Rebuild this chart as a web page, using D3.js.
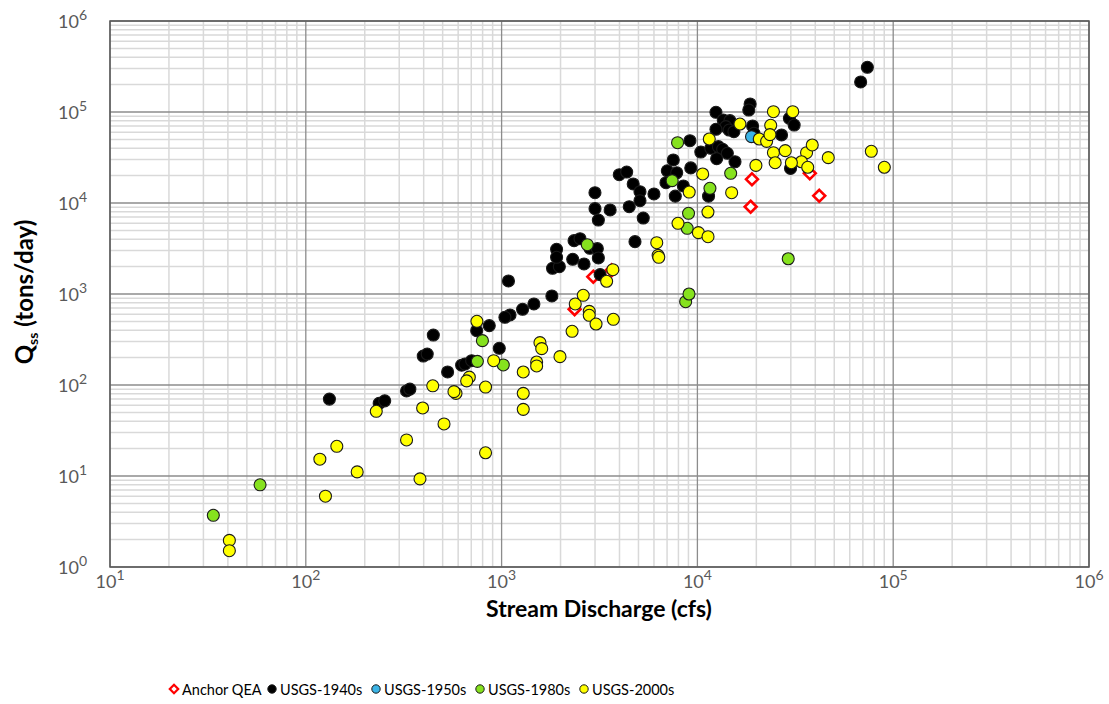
<!DOCTYPE html>
<html>
<head>
<meta charset="utf-8">
<script src="https://cdn.jsdelivr.net/npm/d3@7"></script>
<style>
  body { margin: 0; background: #fff; }
  svg { display: block; }
</style>
</head>
<body>
<svg width="1109" height="704"></svg>
<script>
// series: [discharge cfs, Qss tons/day]
const anchorQEA = [
  [2360, 680], [2940, 1550], [3650, 1820], [19000, 18200], [18700, 9100],
  [37500, 21200], [41900, 12000]
];
const usgs1940s = [
  [132, 70], [237, 63], [253, 67], [327, 86], [340, 90], [398, 208], [417, 219],
  [448, 354], [530, 139], [625, 165], [650, 170], [703, 185], [746, 395], [865, 449],
  [973, 253], [1084, 1390], [1104, 588], [1040, 555], [1280, 679], [1462, 777],
  [1806, 951], [1820, 1916], [1972, 1995], [1909, 3100], [1909, 2530], [2308, 2406],
  [2636, 2138], [2345, 3855], [2515, 4053], [2827, 3180], [3083, 3150], [3120, 2490],
  [3186, 1633], [2998, 12970], [3000, 8670], [3120, 6500], [3584, 8380], [3990, 20460],
  [4353, 21900], [4700, 16180], [5090, 13300], [5090, 10600], [4487, 9100], [5290, 6840],
  [4800, 3760], [6000, 12560], [7530, 29700], [7020, 22600], [7840, 21500], [6910, 16700],
  [7710, 11900], [8480, 15400], [9250, 24300], [11400, 11900], [12440, 99300],
  [18590, 122500], [18300, 105200], [29500, 85300], [31200, 71900], [13550, 81700],
  [14660, 80300], [13970, 69000], [14530, 63400], [15360, 60800], [12440, 64600],
  [19140, 70200], [19450, 58300], [26900, 55900], [9160, 48400], [10410, 36300],
  [11700, 39900], [12800, 41600], [13460, 38900], [12540, 30700], [14220, 35200],
  [15560, 28400], [29900, 24000], [73800, 309700], [68200, 213900]
];
const usgs1950s = [
  [18900, 53600]
];
const usgs1980s = [
  [33.7, 3.7], [58.4, 8.0], [798, 307], [752, 182], [1020, 166], [2740, 3480],
  [8710, 823], [9060, 1000], [7430, 17600], [11590, 14500], [9010, 7710], [8870, 5270],
  [29100, 2440], [14790, 21200], [7920, 46000]
];
const usgs2000s = [
  [40.7, 1.96], [40.7, 1.51], [118, 15.3], [144, 21.2], [126, 6.0], [183, 11.1],
  [229, 51.4], [395, 55.9], [445, 98], [327, 24.9], [383, 9.3], [508, 37.3], [585, 81],
  [571, 84.5], [684, 122], [663, 111], [748, 501], [911, 185], [828, 95], [828, 18.0],
  [1290, 139], [1290, 81], [1290, 54], [1510, 179], [1510, 162], [1570, 292], [1603, 251],
  [1987, 205], [2291, 389], [2378, 777], [2612, 968], [2803, 645], [2803, 583],
  [3036, 468], [3722, 527], [3439, 1380], [3700, 1850], [6200, 3660], [6300, 2660],
  [6350, 2530], [9080, 13200], [10640, 20840], [11320, 7960], [7960, 5980], [10120, 4720],
  [11330, 4260], [14960, 12980], [19900, 25900], [77300, 37000], [90100, 24700],
  [24450, 100800], [30680, 100800], [16490, 73800], [23680, 71400], [20700, 50500],
  [22570, 47600], [23480, 56400], [11500, 50500], [24450, 35700], [24950, 27700],
  [28100, 37600], [36100, 35700], [38600, 43400], [34000, 28400], [30200, 27700],
  [36600, 24700], [46600, 31500]
];

const seriesNames = ['Anchor QEA', 'USGS-1940s', 'USGS-1950s', 'USGS-1980s', 'USGS-2000s'];
const seriesColors = ['#ff0000', '#000000', '#3cb4e6', '#86e21e', '#ffff00'];
const seriesData = [anchorQEA, usgs1940s, usgs1950s, usgs1980s, usgs2000s];

const xExp = [1, 2, 3, 4, 5, 6];
const yExp = [0, 1, 2, 3, 4, 5, 6];

const svg = d3.select('svg');
const pLeft = 110, pRight = 1089, pTop = 21, pBottom = 567;

const x = d3.scaleLog().domain([1e1, 1e6]).range([pLeft, pRight]);
const y = d3.scaleLog().domain([1e0, 1e6]).range([pBottom, pTop]);

// minor grid (2..9 in each decade)
const minorX = [], minorY = [];
d3.range(1, 6).forEach(e => d3.range(2, 10).forEach(m => minorX.push(m * Math.pow(10, e))));
d3.range(0, 6).forEach(e => d3.range(2, 10).forEach(m => minorY.push(m * Math.pow(10, e))));

const grid = svg.append('g');
grid.selectAll('.mx').data(minorX).enter().append('line')
  .attr('x1', d => x(d)).attr('x2', d => x(d))
  .attr('y1', pTop).attr('y2', pBottom)
  .attr('stroke', '#d9d9d9').attr('stroke-width', 1.5);
grid.selectAll('.my').data(minorY).enter().append('line')
  .attr('y1', d => y(d)).attr('y2', d => y(d))
  .attr('x1', pLeft).attr('x2', pRight)
  .attr('stroke', '#d9d9d9').attr('stroke-width', 1.5);
grid.selectAll('.Mx').data(xExp).enter().append('line')
  .attr('x1', d => x(Math.pow(10, d))).attr('x2', d => x(Math.pow(10, d)))
  .attr('y1', pTop).attr('y2', pBottom)
  .attr('stroke', '#8c8c8c').attr('stroke-width', 1.3);
grid.selectAll('.My').data(yExp).enter().append('line')
  .attr('y1', d => y(Math.pow(10, d))).attr('y2', d => y(Math.pow(10, d)))
  .attr('x1', pLeft).attr('x2', pRight)
  .attr('stroke', '#8c8c8c').attr('stroke-width', 1.3);

svg.append('rect')
  .attr('x', pLeft).attr('y', pTop)
  .attr('width', pRight - pLeft).attr('height', pBottom - pTop)
  .attr('fill', 'none').attr('stroke', '#595959').attr('stroke-width', 1.5);

// tick labels as 10^n
const tickFont = 'Lato, "Open Sans", sans-serif';
const xl = svg.append('g').selectAll('text').data(xExp).enter().append('text')
  .attr('x', d => x(Math.pow(10, d)))
  .attr('y', 588)
  .attr('text-anchor', 'middle')
  .attr('font-family', tickFont).attr('font-size', 18).attr('fill', '#595959');
xl.append('tspan').text('10');
xl.append('tspan').attr('dy', -8).attr('font-size', 14).text(d => d);

const yl = svg.append('g').selectAll('text').data(yExp).enter().append('text')
  .attr('x', 87)
  .attr('y', d => y(Math.pow(10, d)) + 7)
  .attr('text-anchor', 'end')
  .attr('font-family', tickFont).attr('font-size', 18).attr('fill', '#595959');
yl.append('tspan').text('10');
yl.append('tspan').attr('dy', -8).attr('font-size', 14).text(d => d);

// axis titles
svg.append('text')
  .attr('x', 599).attr('y', 617)
  .attr('text-anchor', 'middle')
  .attr('font-family', tickFont).attr('font-weight', 'bold')
  .attr('font-size', 23).attr('fill', '#000')
  .text('Stream Discharge (cfs)');

const yt = svg.append('text')
  .attr('transform', 'translate(33,292) rotate(-90)')
  .attr('text-anchor', 'middle')
  .attr('font-family', tickFont).attr('font-weight', 'bold')
  .attr('font-size', 24).attr('fill', '#000');
yt.append('tspan').text('Q');
yt.append('tspan').attr('dy', 5).attr('font-size', 14).text('ss');
yt.append('tspan').attr('dy', -5).text(' (tons/day)');

// points
const diamond = d3.symbol().type(d3.symbolDiamond2).size(90);
const plot = svg.append('g');
seriesData.forEach((data, i) => {
  const g = plot.append('g');
  if (i === 0) {
    g.selectAll('path').data(data).enter().append('path')
      .attr('d', diamond)
      .attr('transform', d => `translate(${x(d[0])},${y(d[1])})`)
      .attr('fill', '#fff').attr('stroke', seriesColors[i]).attr('stroke-width', 2.6);
  } else {
    g.selectAll('circle').data(data).enter().append('circle')
      .attr('cx', d => x(d[0])).attr('cy', d => y(d[1]))
      .attr('r', 6)
      .attr('fill', seriesColors[i])
      .attr('stroke', '#1a1a1a').attr('stroke-width', 1.1);
  }
});

// legend
const legendX = [174, 272, 376, 480, 584];
const legend = svg.append('g').selectAll('g').data(seriesNames).enter().append('g')
  .attr('transform', (d, i) => `translate(${legendX[i]},689)`);
legend.each(function (d, i) {
  const g = d3.select(this);
  if (i === 0) {
    g.append('path').attr('d', d3.symbol().type(d3.symbolDiamond2).size(45))
      .attr('fill', '#fff').attr('stroke', seriesColors[i]).attr('stroke-width', 2.2);
  } else {
    g.append('circle').attr('r', 4.2)
      .attr('fill', seriesColors[i]).attr('stroke', '#1a1a1a').attr('stroke-width', 1);
  }
});
legend.append('text')
  .attr('x', 8).attr('y', 5.5)
  .attr('font-family', tickFont).attr('font-size', 14.5).attr('fill', '#000')
  .text(d => d);
</script>
</body>
</html>
